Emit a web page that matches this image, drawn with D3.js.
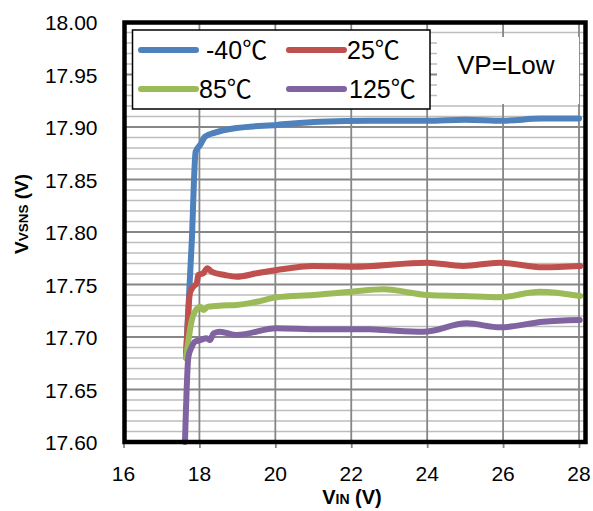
<!DOCTYPE html>
<html>
<head>
<meta charset="utf-8">
<script src="https://cdn.jsdelivr.net/npm/d3@7"></script>
<style>
  html, body { margin: 0; padding: 0; background: #fff; }
  svg { display: block; font-family: "Liberation Sans", Arial, "Noto Sans CJK JP", sans-serif; }
</style>
</head>
<body>
<svg id="chart" width="593" height="511"></svg>
<script>
// VSNS output voltage vs. input voltage, one series per temperature
const seriesNames = ["-40℃", "25℃", "85℃", "125℃"];
const seriesColors = ["#4F81BD", "#C0504D", "#9BBB59", "#8064A2"];

// [VIN (V), VVSNS (V)]
const tMinus40 = [
  [17.65, 17.685], [17.80, 17.792], [17.90, 17.8765], [18.02, 17.8829],
  [18.15, 17.8908], [18.41, 17.8946], [18.98, 17.899], [20.04, 17.902],
  [21.18, 17.905], [22.49, 17.906], [24.0, 17.906], [25.0, 17.907],
  [26.0, 17.906], [27.0, 17.908], [28.0, 17.908]
];
const t25 = [
  [17.65, 17.68], [17.75, 17.7416], [17.84, 17.748], [17.93, 17.7511],
  [17.97, 17.759], [18.10, 17.7607], [18.21, 17.7654], [18.32, 17.7622],
  [18.67, 17.759], [18.98, 17.7574], [19.51, 17.7607], [20.04, 17.7638],
  [21.0, 17.7676], [22.05, 17.767], [24.0, 17.7708], [24.95, 17.7676],
  [25.9, 17.7708], [27.06, 17.7664], [28.03, 17.7676]
];
const t85 = [
  [17.65, 17.68], [17.80, 17.7162], [17.88, 17.7241], [18.02, 17.7289],
  [18.10, 17.7257], [18.23, 17.7289], [18.6, 17.730], [18.98, 17.7305],
  [19.51, 17.7336], [20.03, 17.7378], [21.0, 17.740], [22.0, 17.7431],
  [22.85, 17.7454], [24.0, 17.740], [24.95, 17.739], [25.9, 17.7378],
  [26.97, 17.7431], [28.03, 17.739]
];
const t125 = [
  [17.62, 17.60], [17.71, 17.6812], [17.80, 17.6908], [17.88, 17.6955],
  [18.02, 17.6971], [18.19, 17.6988], [18.28, 17.6971], [18.37, 17.7035],
  [18.54, 17.705], [18.98, 17.7019], [20.03, 17.7083], [21.17, 17.7073],
  [22.49, 17.7073], [22.84, 17.7067], [23.9, 17.705], [25.04, 17.713],
  [25.92, 17.7092], [27.06, 17.7146], [28.02, 17.7162]
];
const seriesData = [tMinus40, t25, t85, t125];

const xTicks = [16, 18, 20, 22, 24, 26, 28];
const yTicks = [17.60, 17.65, 17.70, 17.75, 17.80, 17.85, 17.90, 17.95, 18.00];
const yMinorStep = 0.01;
const noteText = "VP=Low";

const svg = d3.select("#chart");

const x = d3.scaleLinear().domain([16, 28]).range([123.5, 579]);
const y = d3.scaleLinear().domain([17.60, 18.00]).range([442, 22]);

const plotLeft = 124.5, plotRight = 585.5, plotTop = 22.5, plotBottom = 442;

// minor horizontal gridlines
const minorVals = d3.range(0, 41).map(i => +(17.60 + i * yMinorStep).toFixed(2))
  .filter(v => !yTicks.some(t => Math.abs(t - v) < 1e-6));
svg.append("g").selectAll("line").data(minorVals).join("line")
  .attr("x1", plotLeft).attr("x2", plotRight)
  .attr("y1", d => y(d)).attr("y2", d => y(d))
  .attr("stroke", "#bdbdbd").attr("stroke-width", 1.6);

// major horizontal gridlines
svg.append("g").selectAll("line").data(yTicks).join("line")
  .attr("x1", plotLeft).attr("x2", plotRight)
  .attr("y1", d => y(d)).attr("y2", d => y(d))
  .attr("stroke", "#868686").attr("stroke-width", 1.8);

// vertical gridlines
svg.append("g").selectAll("line").data(xTicks.slice(1)).join("line")
  .attr("x1", d => x(d)).attr("x2", d => x(d))
  .attr("y1", plotTop).attr("y2", plotBottom)
  .attr("stroke", "#868686").attr("stroke-width", 1.8);

// x axis with outward ticks
const xAxis = d3.axisBottom(x).tickValues(xTicks).tickSize(6).tickFormat("");
const gx = svg.append("g").attr("transform", `translate(0,${plotBottom})`).call(xAxis);
gx.select(".domain").remove();
gx.selectAll(".tick line").attr("stroke", "#868686").attr("stroke-width", 1.8);

svg.append("g").selectAll("text").data(xTicks).join("text")
  .attr("x", d => x(d)).attr("y", 480.5)
  .attr("text-anchor", "middle")
  .attr("font-size", 21).attr("fill", "#000")
  .text(d => d);

// y tick labels
const yAxis = d3.axisLeft(y).tickValues(yTicks).tickSize(0).tickFormat(d3.format(".2f"));
const gy = svg.append("g").attr("transform", `translate(${plotLeft},0)`).call(yAxis);
gy.select(".domain").remove();
gy.selectAll(".tick text")
  .attr("x", -27).attr("dy", "0.37em")
  .attr("font-size", 21).attr("fill", "#000")
  .attr("font-family", "Liberation Sans, Arial, sans-serif");

// note box (opaque, hides gridlines behind the label)
svg.append("rect")
  .attr("x", 437).attr("y", 37).attr("width", 142).attr("height", 67)
  .attr("fill", "#fff");
svg.append("text")
  .attr("x", 457).attr("y", 74)
  .attr("font-size", 26).attr("fill", "#000")
  .text(noteText);

// series lines
const line = d3.line()
  .x(d => x(d[0])).y(d => y(d[1]))
  .curve(d3.curveMonotoneX);

svg.append("g").selectAll("path").data(seriesData).join("path")
  .attr("d", line)
  .attr("fill", "none")
  .attr("stroke", (d, i) => seriesColors[i])
  .attr("stroke-width", 6)
  .attr("stroke-linejoin", "round")
  .attr("stroke-linecap", "round");

// plot frame
svg.append("rect")
  .attr("x", plotLeft).attr("y", plotTop)
  .attr("width", plotRight - plotLeft).attr("height", plotBottom - plotTop)
  .attr("fill", "none").attr("stroke", "#000").attr("stroke-width", 4.5);

// legend
const legend = svg.append("g");
legend.append("rect")
  .attr("x", 132.5).attr("y", 30).attr("width", 297.5).attr("height", 79)
  .attr("fill", "#fff").attr("stroke", "#000").attr("stroke-width", 1.5);
const legendItems = [
  { sx: 141, tx: 206, y: 50 },
  { sx: 289, tx: 347, y: 50 },
  { sx: 141, tx: 199, y: 89 },
  { sx: 289, tx: 349, y: 89 }
];
legendItems.forEach((p, i) => {
  legend.append("line")
    .attr("x1", p.sx).attr("x2", p.sx + 55)
    .attr("y1", p.y).attr("y2", p.y)
    .attr("stroke", seriesColors[i]).attr("stroke-width", 6)
    .attr("stroke-linecap", "round");
  legend.append("text")
    .attr("x", p.tx).attr("y", p.y + 9)
    .attr("font-size", 25).attr("fill", "#000")
    .text(seriesNames[i]);
});

// axis titles
const xt = svg.append("text")
  .attr("x", 352).attr("y", 504)
  .attr("text-anchor", "middle")
  .attr("font-weight", "bold").attr("font-size", 20).attr("fill", "#000");
xt.append("tspan").text("V");
xt.append("tspan").attr("font-size", 14).text("IN");
xt.append("tspan").text(" (V)");

const yt = svg.append("text")
  .attr("transform", "translate(28,214) rotate(-90)")
  .attr("text-anchor", "middle")
  .attr("font-weight", "bold").attr("font-size", 19).attr("fill", "#000");
yt.append("tspan").text("V");
yt.append("tspan").attr("font-size", 13.5).text("VSNS");
yt.append("tspan").text(" (V)");
</script>
</body>
</html>
